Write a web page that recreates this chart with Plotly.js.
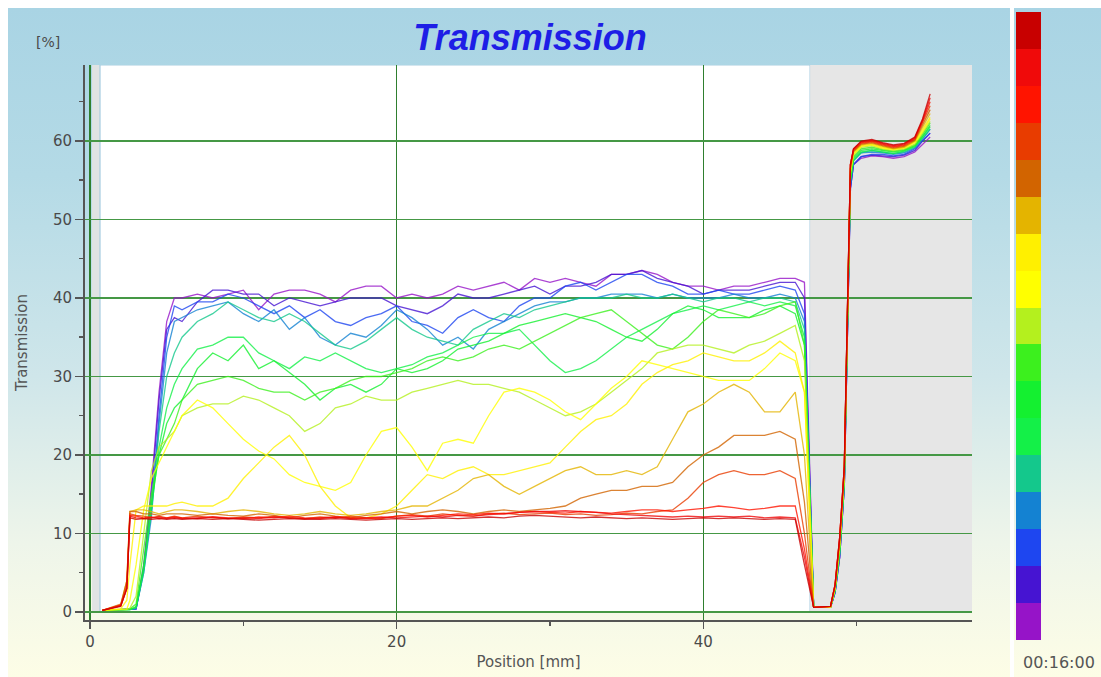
<!DOCTYPE html>
<html>
<head>
<meta charset="utf-8">
<script src="https://cdn.plot.ly/plotly-3.0.1.min.js"></script>
<style>
  html, body { margin: 0; padding: 0; background: #ffffff; width: 1101px; height: 677px; overflow: hidden; }
  #bgMain { position: absolute; left: 8px; top: 8px; width: 1002px; height: 669px;
    background: linear-gradient(180deg, #a9d4e4 0%, #b4dae6 25%, #cfe6ea 55%, #eef5ea 80%, #fdfde6 100%); }
  #bgBar { position: absolute; left: 1014px; top: 8px; width: 87px; height: 669px;
    background: linear-gradient(180deg, #a9d4e4 0%, #b4dae6 25%, #cfe6ea 55%, #eef5ea 80%, #fdfde6 100%); }
  #chart { position: absolute; left: 0; top: 0; width: 1101px; height: 677px; }
</style>
</head>
<body>
<div id="bgMain"></div>
<div id="bgBar"></div>
<div id="chart"></div>
<script>
// Position along the cell [mm]
const positions = [0.8, 2.0, 2.4, 2.6, 3.0, 3.5, 4.0, 4.5, 5.0, 5.5,
  6, 7, 8, 9, 10, 11, 12, 13, 14, 15, 16, 17, 18, 19, 20, 21, 22, 23, 24, 25,
  26, 27, 28, 29, 30, 31, 32, 33, 34, 35, 36, 37, 38, 39, 40, 41, 42, 43, 44, 45, 46,
  46.6, 47.2, 48.3, 48.6, 48.9, 49.2, 49.4, 49.6, 49.8, 50.3, 51.0, 51.7, 52.4, 53.1, 53.8, 54.3, 54.8];

// Transmission profiles [%], one per minute (t00 = start ... t16 = 00:16:00)
const t00 = [0.2,0.7,3,12,11.8,11.9,11.8,11.9,11.8,11.9,
  11.8,11.9,11.8,11.9,11.8,11.7,11.8,11.9,11.8,11.8,11.9,11.8,11.7,11.8,11.9,11.8,11.9,12,11.9,12,
  12.1,12,12.2,12.3,12.2,12.1,12,12.1,12,11.9,12,11.9,11.8,11.9,12,11.9,12,11.9,11.8,11.9,11.8,
  6,0.6,0.7,3.5,9.5,18.5,38,57,59,60,60.2,59.8,59.5,59.7,60.5,62.8,66];
const t01 = [0.2,0.8,3,12.2,12,11.9,12,12.1,11.9,12,
  11.9,12,12.1,11.9,12,11.9,12.1,12,11.9,12,12.1,11.9,12,12.1,12,12.1,12.2,12.1,12.3,12.2,
  12.4,12.5,12.7,12.8,12.8,12.9,12.8,12.7,12.5,12.4,12.3,12.2,12.1,12.2,12.1,12.2,12.1,12.2,12,12.1,12,
  7,0.6,0.7,3.5,9.5,18.5,38,57,59,59.9,60.1,59.7,59.4,59.6,60.4,62.6,65.5];
const t02 = [0.2,0.8,3,12.3,12.2,12,12.1,11.9,12,12.1,
  12,11.9,12.1,12,11.9,12.1,12,12.2,12,11.9,12.1,12,11.9,12,12.2,12.3,12.1,12.3,12.5,12.4,
  12.6,12.5,12.7,12.8,12.7,12.6,12.8,12.7,12.6,12.8,13,13,12.8,13,13.2,13.5,13.3,13,13.2,13.5,13.5,
  8,0.6,0.7,3.5,9.5,18.5,38,57,58.9,59.8,60,59.6,59.3,59.5,60.3,62.5,65];
const t03 = [0.2,0.9,3.5,12.5,12.3,12.2,12,12.2,12,12.2,
  12,12.2,12,11.9,12.1,12,12.2,12,11.9,12.1,12,12.2,12,11.9,12.2,12.4,12.2,12.5,12.3,12.2,
  12.5,12.6,12.4,12.5,12.6,12.4,12.5,12.3,12.4,12.6,12.5,12.8,13,14.5,16.5,17.5,18,17.5,17.5,18,17,
  10,0.6,0.7,3.5,9.5,18.5,38,57,58.8,59.7,59.9,59.5,59.2,59.4,60.2,62.3,64.5];
const t04 = [0.2,1,4,12.8,12.8,12.5,12.5,12.3,12.5,12.5,
  12.5,12.3,12.5,12.3,12.2,12.5,12.3,12,12.3,12.5,12.2,12,12.3,12.5,12.8,12.5,12.8,13,12.8,12.5,
  12.8,13,12.8,13,13.2,13.5,14.5,15,15.5,15.5,16,16,16.5,18.5,20,21,22.5,22.5,22.5,23,22,
  14,0.6,0.7,3.3,9,18,37.5,56.5,58.7,59.6,59.8,59.4,59.1,59.3,60.1,62,64];
const t05 = [0.2,0.8,4,12.8,13,13,12.8,12.5,12.8,13,
  13,12.8,12.5,12.8,13,12.8,12.5,12.3,12.5,12.8,12.5,12.3,12.5,12.8,13,13.5,13.5,14.5,15.5,17,
  17.5,16,15,16,17,18,18.5,17.5,17.5,18,17.5,18.5,22,25.5,26.5,28,29,28,25.5,25.5,28,
  20,0.6,0.7,3.3,9,18,37.5,56.5,58.6,59.5,59.7,59.3,59,59.2,60,61.8,63.5];
const t06 = [0.2,0.4,1.5,6,13,13.5,13.5,13.5,13.5,13.8,
  14,13.5,13.5,14.5,17,19,21,22.5,20,16,13.5,12,12,12.5,13.5,15.5,17.5,17,18,18.5,
  17.5,17.5,18,18.5,19,21,23,24.5,25,26.5,29,30.5,31.5,32,33,32.5,32,32,33,34.5,33,
  28,0.6,0.6,3.2,9,18,37.5,56.5,58.5,59.4,59.6,59.2,59,59.2,59.9,61.5,63];
const t07 = [0.2,0.3,0.4,1.5,6,13,17,19,21,23,
  25,27,26,24,22,20.5,19.5,17.5,16.5,16,15.5,16.5,20,23,23.5,21,18,21.5,22,21.5,
  25,28,28.5,28,27,25.5,24.5,26.5,28.5,30,32,31.5,31,30.5,30,29.5,29.5,29.5,31,33,32,
  28,0.6,0.6,3,8.5,17.5,37,56,58.3,59.3,59.5,59.1,58.9,59.1,59.8,61.2,62.8];
const t08 = [0.2,0.3,0.3,0.5,2,10,18,21,22,23,
  25,26,26.5,26.5,27.5,27,26,25,23,24,26,26.5,27.5,27,27,28,28.5,29,29.5,29,
  29,28.5,28,27,26,25,25.5,26.5,28,29.5,31,33,33.5,34,34,33.5,33,34,34.5,35.5,36.5,
  32,0.6,0.6,3,8.5,17.5,37,56,58.2,59.2,59.4,59,58.8,59,59.6,61,62.5];
const t09 = [0.2,0.3,0.3,0.4,1,8,15,20,22,24,
  27,29,29.5,30,29.5,28.5,28,28,27,28,28.5,29.5,30,30,30.5,31,32,32.5,32,32.5,
  33.5,34,33.5,34.5,35.5,36.5,37.5,38,38.5,37,35.5,34,33.5,35,37,38.5,38,37.5,38,39,39.5,
  34,0.6,0.6,3,8,17,36.5,55.5,58,59,59.2,58.9,58.7,58.9,59.5,60.8,62.3];
const t10 = [0.2,0.3,0.3,0.3,0.7,6,14,20,24,26,
  27,31,33,32,34,31,32,30.5,29,27,28.5,29,28,29,31,30.5,31,32,33.5,34,
  34.5,35.5,36.5,37,37.5,38,37.5,37,36,35,34.5,36,38,39,38.5,37.5,37.5,37.5,38.5,39,38,
  34,0.6,0.6,2.8,8,17,36,55,57.8,58.8,59,58.8,58.6,58.8,59.4,60.6,62];
const t11 = [0.2,0.3,0.3,0.3,0.6,5.5,13,21,26,29,
  31,33.5,34,35,35,33,32,31,32.5,32,33,32,31,30.5,31,31.5,32.5,33,34,35,
  35.5,35.5,36,34,32,30.5,31,32,33.5,35,36,37,38,38.5,39,38.5,39,39.5,39,39.5,39,
  35,0.6,0.6,2.8,7.5,16.5,36,55,57.5,58.6,58.8,58.6,58.4,58.7,59.3,60.5,61.8];
const t12 = [0.2,0.3,0.3,0.3,0.5,5,13,23,30,33,
  35,37,38,39.5,38.5,37.5,37,38,37,35.5,34,33.5,34.5,36,37.5,36,35,34.5,34,36,
  37,38,37.5,38.5,39,39.5,40,40,40,40.5,40,40,40.5,40,39.5,40,40,39.5,40,40,39.5,
  36,0.6,0.6,2.8,7.5,16.5,36,55,57.5,58.5,58.8,58.6,58.4,58.6,59.2,60.3,61.5];
const t13 = [0.2,0.3,0.3,0.3,0.4,5,12,24,33,37,
  37.5,38.5,39,39.5,38,37,38.5,36,37.5,35,34,35.5,35,36.5,38.5,37.5,36,34,35,33.5,
  36,37,38,39,39.5,39.5,40,40,40.5,40.5,40.5,40,40.5,40,40,40,40.5,40,40,40.5,40,
  37,0.6,0.6,2.5,7.5,16,35,54.5,57.5,58.5,58.6,58.5,58.3,58.5,59.1,60.2,61.5];
const t14 = [0.2,0.3,0.3,0.3,0.4,5.5,13,25,35,39,
  38.5,39.5,39.5,40.5,40,39,38,39,37.5,38.5,37,36.5,37.5,38,39,37,36.5,35.5,37.5,38.5,
  37.5,37,39,40,40,41.5,42,41,42,43,43,42,41.5,40.5,40.5,41,40.5,40.5,41,41.5,41,
  38,0.6,0.6,2.5,7,16,35,54,57,58,58.3,58.3,58.1,58.3,59,60,61];
const t15 = [0.2,0.3,0.3,0.3,0.4,5.5,15,27,36,37.5,
  37,39.5,41,41,40.5,40.5,39,40,39.5,39,39.5,40,40,40,39,38.5,38,39,40.5,40,
  40,40.5,41,41.5,40.5,41.5,41.5,42,43,43,43.5,42.5,42,41.5,40.5,41,41,41,41.5,42,42,
  40,0.6,0.6,2.5,7,16,35,54,57,58,58.2,58.1,58,58.2,58.8,60,61];
const t16 = [0.2,0.3,0.3,0.3,0.4,6,16,28,37,40,
  40,40.5,40,40.5,41,38.5,40.5,41,41,40.5,39.5,41,41.5,41.5,40,40.5,40,40.5,41.5,41,
  41.5,42,41,42.5,42,42.5,42,41.5,43,43,43.5,43,42,41.5,41.5,41,41.5,41.5,42,42.5,42.5,
  42,0.6,0.6,2.5,7,16,35,54,57,57.8,58.1,58,57.8,58,58.6,59.5,60.5];

const profiles = [t00, t01, t02, t03, t04, t05, t06, t07, t08, t09, t10, t11, t12, t13, t14, t15, t16];
const timeSteps = [0, 1, 2, 3, 4, 5, 6, 7, 8, 9, 10, 11, 12, 13, 14, 15, 16];
const timeColors = ['#c80000', '#f00a0a', '#ff1400', '#e83c00', '#d26400', '#e4b400', '#fff000', '#ffff00',
  '#b4f01e', '#3cf01e', '#14f030', '#14f048', '#14c88c', '#1482d2', '#1e46f0', '#4614d2', '#9614c8'];
const lastTimeLabel = '00:16:00';

// Cell geometry bands (background regions) [mm]
const cellStart = 0.65, cellEnd = 46.97;
const xMin = -0.33, xMax = 57.53, yMin = -1.02, yMax = 69.68;

const traces = [];
for (let i = profiles.length - 1; i >= 0; i--) {
  traces.push({
    type: 'scatter', mode: 'lines', x: positions, y: profiles[i],
    line: { color: timeColors[i], width: 1.3 }, opacity: 0.8,
    hoverinfo: 'skip', showlegend: false, xaxis: 'x', yaxis: 'y'
  });
}
traces.push({
  type: 'heatmap', x: [0], y: timeSteps, z: timeSteps.map(t => [t]),
  zmin: 0, zmax: 16, showscale: false, hoverinfo: 'skip',
  colorscale: timeColors.map((c, i) => [i / 16, c]),
  xaxis: 'x2', yaxis: 'y2'
});

const tickFont = { family: 'DejaVu Sans, sans-serif', size: 15, color: '#4a4a4a' };

const layout = {
  width: 1101, height: 677,
  margin: { l: 85, r: 40, t: 12, b: 37 },
  paper_bgcolor: 'rgba(0,0,0,0)', plot_bgcolor: 'rgba(0,0,0,0)',
  showlegend: false,
  title: {
    text: '<b><i>Transmission</i></b>',
    font: { family: 'Liberation Sans, Arial, sans-serif', size: 36, color: '#1e1ee6' },
    x: 530 / 1101, xanchor: 'center', xref: 'container',
    y: 1 - 37 / 677, yanchor: 'middle', yref: 'container'
  },
  xaxis: {
    domain: [0, 0.90881], range: [xMin, xMax],
    tick0: 0, dtick: 20, ticks: 'outside', ticklen: 7, tickwidth: 1.5, tickcolor: '#555555',
    minor: { dtick: 10, ticks: 'outside', ticklen: 4, tickcolor: '#555555', showgrid: false },
    showline: true, linecolor: '#555555', linewidth: 2,
    showgrid: true, gridcolor: '#2f7f2f', gridwidth: 1.2, zeroline: false,
    tickfont: tickFont,
    title: { text: 'Position [mm]', font: { family: 'DejaVu Sans, sans-serif', size: 15, color: '#555555' }, standoff: 7 }
  },
  yaxis: {
    domain: [0.03185, 0.91561], range: [yMin, yMax],
    tick0: 0, dtick: 10, ticks: 'outside', ticklen: 8, tickwidth: 1.5, tickcolor: '#555555',
    minor: { dtick: 5, ticks: 'outside', ticklen: 4, tickcolor: '#555555', showgrid: false },
    showline: true, linecolor: '#555555', linewidth: 2,
    showgrid: true, gridcolor: '#459845', gridwidth: 1.6, zeroline: false,
    tickfont: tickFont,
    title: { text: 'Transmission', font: { family: 'DejaVu Sans, sans-serif', size: 15, color: '#555555' }, standoff: 22 }
  },
  xaxis2: { domain: [0.95389, 0.97951], anchor: 'y2', range: [-0.5, 0.5], visible: false, fixedrange: true },
  yaxis2: { domain: [0, 1], anchor: 'x2', range: [16.5, -0.5], visible: false, fixedrange: true },
  shapes: [
    { type: 'rect', layer: 'below', xref: 'x', yref: 'y', x0: 0.13, x1: cellStart, y0: 0, y1: yMax,
      fillcolor: '#e0e3e3', line: { width: 0 } },
    { type: 'rect', layer: 'below', xref: 'x', yref: 'y', x0: cellStart, x1: cellEnd, y0: 0, y1: yMax,
      fillcolor: '#ffffff', line: { color: '#a9cde0', width: 1.2 } },
    { type: 'rect', layer: 'below', xref: 'x', yref: 'y', x0: cellEnd, x1: xMax, y0: 0, y1: yMax,
      fillcolor: '#e6e6e6', line: { width: 0 } }
  ],
  annotations: [
    { text: '[%]', xref: 'paper', yref: 'paper', x: (48 - 85) / 976, y: (640 - 42) / 628,
      xanchor: 'center', yanchor: 'middle', showarrow: false,
      font: { family: 'DejaVu Sans, sans-serif', size: 14, color: '#4a4a4a' } },
    { text: lastTimeLabel, xref: 'paper', yref: 'paper', x: (1059 - 85) / 976, y: (640 - 662) / 628,
      xanchor: 'center', yanchor: 'middle', showarrow: false,
      font: { family: 'DejaVu Sans, sans-serif', size: 16, color: '#555555' } }
  ]
};

Plotly.newPlot('chart', traces, layout, { displayModeBar: false, staticPlot: true });
</script>
</body>
</html>
